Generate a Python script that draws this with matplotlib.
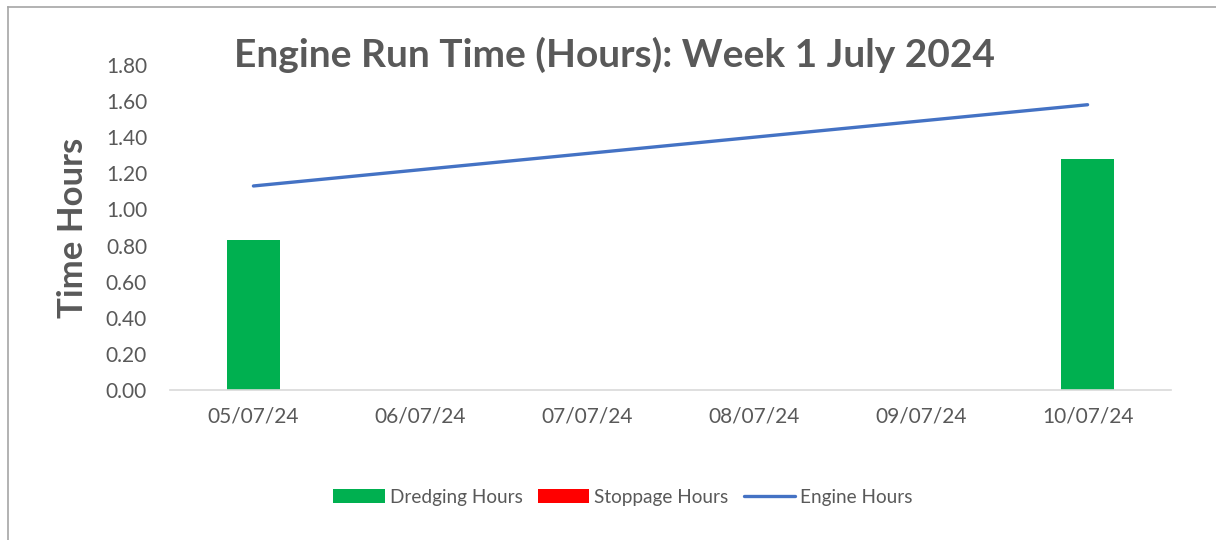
import matplotlib.pyplot as plt
from matplotlib.lines import Line2D
import numpy as np

plt.rcParams['font.family'] = ['Lato', 'DejaVu Sans']

# data
dates = ['05/07/24', '06/07/24', '07/07/24', '08/07/24', '09/07/24', '10/07/24']
dredging = [0.83, 0, 0, 0, 0, 1.28]
stoppage = [0, 0, 0, 0, 0, 0]
engine = [1.13, np.nan, np.nan, np.nan, np.nan, 1.58]

W, H = 1216, 540
fig = plt.figure(figsize=(W / 100, H / 100), dpi=100)
ax = fig.add_axes([170 / W, 1 - 390 / H, (1171 - 170) / W, (390 - 65) / H])

x = np.arange(len(dates))
b1 = ax.bar(x, dredging, width=0.32, color='#00B050', label='Dredging Hours', zorder=2)
b2 = ax.bar(x, stoppage, width=0.32, bottom=dredging, color='#FF0000', label='Stoppage Hours', zorder=2)

eng = np.array(engine)
ok = ~np.isnan(eng)
l1, = ax.plot(x[ok], eng[ok], color='#4472C4', lw=2.4, solid_capstyle='round',
              label='Engine Hours', zorder=3)

ax.set_xlim(-0.5, len(dates) - 0.5)
ax.set_ylim(0, 1.8)
ax.set_yticks(np.arange(0, 1.81, 0.2))
ax.set_yticklabels(['%.2f' % v for v in np.arange(0, 1.81, 0.2)])
ax.set_xticks(x)
ax.set_xticklabels(dates)
ax.tick_params(length=0, labelsize=15, colors='#595959')
ax.tick_params(axis='y', pad=16.5)
ax.tick_params(axis='x', pad=12)

for s in ['top', 'right', 'left']:
    ax.spines[s].set_visible(False)
ax.spines['bottom'].set_color('#d9d9d9')
ax.spines['bottom'].set_linewidth(1.2)

ax.set_ylabel('Time Hours', fontsize=25, fontweight='bold', color='#595959', labelpad=12)

fig.text(614 / W, 1 - 55 / H, 'Engine Run Time (Hours): Week 1 July 2024',
         ha='center', va='center', fontsize=28, fontweight='bold', color='#595959')

fig.legend(handles=[b1, b2, l1], loc='center', bbox_to_anchor=(623 / W, 1 - 497 / H),
           ncol=3, frameon=False, fontsize=13.7, labelcolor='#595959',
           handlelength=2.7, handletextpad=0.26, columnspacing=0.8, handleheight=0.74)

# chart frame (left and top edges visible)
fig.add_artist(Line2D([8 / W, 8 / W], [0, 1 - 7 / H], color='#a6a6a6', lw=1.2))
fig.add_artist(Line2D([8 / W, 1], [1 - 7 / H, 1 - 7 / H], color='#a6a6a6', lw=1.2))

fig.savefig('out.png', dpi=100, facecolor='white')
